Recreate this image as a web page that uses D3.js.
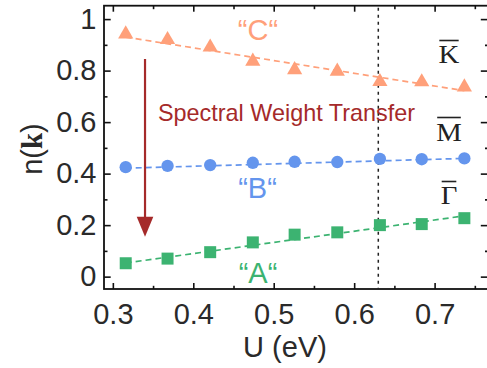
<!DOCTYPE html>
<html>
<head>
<meta charset="utf-8">
<script src="https://cdn.jsdelivr.net/npm/d3@7"></script>
<style>
  html, body { margin: 0; padding: 0; background: #fff; }
  svg { display: block; }
  text { font-family: "Liberation Sans", Arial, sans-serif; }
</style>
</head>
<body>
<svg id="chart" width="487" height="368"></svg>
<script>
// Interaction strength U (eV)
const uValues = [0.316, 0.368, 0.421, 0.474, 0.526, 0.579, 0.632, 0.684, 0.737];
// Momentum distribution n(k) at the three high-symmetry points
const seriesC = [0.942, 0.920, 0.891, 0.836, 0.803, 0.797, 0.757, 0.756, 0.736]; // K-bar
const seriesB = [0.425, 0.430, 0.433, 0.442, 0.446, 0.445, 0.457, 0.456, 0.459]; // M-bar
const seriesA = [0.052, 0.070, 0.095, 0.133, 0.163, 0.172, 0.200, 0.204, 0.227]; // Gamma-bar

// Linear trend lines (end points)
const fitU = [0.316, 0.737];
const fitC = [0.930, 0.722];
const fitB = [0.421, 0.459];
const fitA = [0.053, 0.236];

const xMajor = [0.3, 0.4, 0.5, 0.6, 0.7];
const xMinor = [0.35, 0.45, 0.55, 0.65, 0.75];
const xTickLabels = ["0.3", "0.4", "0.5", "0.6", "0.7"];
const yMajor = [0, 0.2, 0.4, 0.6, 0.8, 1];
const yMinor = [0.1, 0.3, 0.5, 0.7, 0.9];
const yTickLabels = ["0", "0.2", "0.4", "0.6", "0.8", "1"];

const criticalU = 0.63;

const box = { left: 104, top: 5.7, right: 488.5, bottom: 289 };

const svg = d3.select("#chart");

const x = d3.scaleLinear().domain([0.289, 0.767]).range([box.left, box.right]);
const y = d3.scaleLinear().domain([-0.048, 1.052]).range([box.bottom, box.top]);

const tickColor = "#2a2a2a";
const fontSize = 29;

function styleAxis(g) {
  g.select(".domain").remove();
  g.selectAll(".tick line").attr("stroke", "#111").attr("stroke-width", 1.6);
  g.selectAll(".tick text")
    .attr("fill", tickColor)
    .style("font-size", fontSize + "px")
    .style("font-family", "'Liberation Sans', Arial, sans-serif");
}

// Bottom axis: labelled major ticks plus short minor ticks, all pointing inward
svg.append("g")
  .attr("transform", `translate(0,${box.bottom})`)
  .call(d3.axisBottom(x).tickValues(xMajor)
    .tickFormat((d, i) => xTickLabels[i])
    .tickSizeInner(-6).tickSizeOuter(0).tickPadding(14))
  .call(styleAxis);
svg.append("g")
  .attr("transform", `translate(0,${box.bottom})`)
  .call(d3.axisBottom(x).tickValues(xMinor).tickFormat("")
    .tickSizeInner(-3.2).tickSizeOuter(0))
  .call(styleAxis);

// Top axis (unlabelled)
svg.append("g")
  .attr("transform", `translate(0,${box.top})`)
  .call(d3.axisTop(x).tickValues(xMajor).tickFormat("")
    .tickSizeInner(-6).tickSizeOuter(0))
  .call(styleAxis);
svg.append("g")
  .attr("transform", `translate(0,${box.top})`)
  .call(d3.axisTop(x).tickValues(xMinor).tickFormat("")
    .tickSizeInner(-3.5).tickSizeOuter(0))
  .call(styleAxis);

// Left axis
svg.append("g")
  .attr("transform", `translate(${box.left},0)`)
  .call(d3.axisLeft(y).tickValues(yMajor)
    .tickFormat((d, i) => yTickLabels[i])
    .tickSizeInner(-6.7).tickSizeOuter(0).tickPadding(7.5))
  .call(styleAxis);
svg.append("g")
  .attr("transform", `translate(${box.left},0)`)
  .call(d3.axisLeft(y).tickValues(yMinor).tickFormat("")
    .tickSizeInner(-3.5).tickSizeOuter(0))
  .call(styleAxis);

// Right axis (unlabelled)
svg.append("g")
  .attr("transform", `translate(${box.right},0)`)
  .call(d3.axisRight(y).tickValues(yMajor).tickFormat("")
    .tickSizeInner(-7.7).tickSizeOuter(0))
  .call(styleAxis);
svg.append("g")
  .attr("transform", `translate(${box.right},0)`)
  .call(d3.axisRight(y).tickValues(yMinor).tickFormat("")
    .tickSizeInner(-3.5).tickSizeOuter(0))
  .call(styleAxis);

// Frame
svg.append("rect")
  .attr("x", box.left).attr("y", box.top)
  .attr("width", box.right - box.left).attr("height", box.bottom - box.top)
  .attr("fill", "none").attr("stroke", "#111").attr("stroke-width", 1.8);

// Critical U marker
svg.append("line")
  .attr("x1", x(criticalU)).attr("x2", x(criticalU))
  .attr("y1", box.top + 2).attr("y2", box.bottom)
  .attr("stroke", "#222").attr("stroke-width", 1.5)
  .attr("stroke-dasharray", "3,4");

// Data series with dashed trend lines
const series = [
  { values: seriesC, fit: fitC, color: "#FFA07A", symbol: d3.symbolTriangle, size: 100 },
  { values: seriesB, fit: fitB, color: "#6495ED", symbol: d3.symbolCircle, size: 120 },
  { values: seriesA, fit: fitA, color: "#3CB371", symbol: d3.symbolSquare, size: 144 }
];

const line = d3.line().x(d => x(d[0])).y(d => y(d[1]));

series.forEach(s => {
  const trend = fitU.map((u, i) => [u, s.fit[i]]);
  svg.append("path")
    .datum(trend)
    .attr("d", line)
    .attr("fill", "none")
    .attr("stroke", s.color)
    .attr("stroke-width", 1.7)
    .attr("stroke-dasharray", "6,4");
  const pts = uValues.map((u, i) => [u, s.values[i]]);
  svg.append("g").selectAll("path")
    .data(pts)
    .join("path")
    .attr("transform", d => `translate(${x(d[0])},${y(d[1])})`)
    .attr("d", d3.symbol().type(s.symbol).size(s.size))
    .attr("fill", s.color);
});

// Series names
const seriesLabels = [
  { text: "\u201CC\u201C", color: "#FFA07A", cx: 258, base: 40 },
  { text: "\u201CB\u201C", color: "#6495ED", cx: 257.5, base: 198.3 },
  { text: "\u201CA\u201C", color: "#3CB371", cx: 258, base: 283.3 }
];
svg.append("g").selectAll("text")
  .data(seriesLabels)
  .join("text")
  .attr("x", d => d.cx).attr("y", d => d.base)
  .attr("text-anchor", "middle")
  .attr("fill", d => d.color)
  .style("font-size", "29px")
  .text(d => d.text);

// High-symmetry point names with overbars
const kLabels = [
  { text: "K", cx: 449, base: 63.5, barY: 40.5 },
  { text: "M", cx: 449, base: 141, barY: 117.5 },
  { text: "\u0393", cx: 449, base: 204.5, barY: 181.5 }
];
const kg = svg.append("g");
kLabels.forEach(d => {
  const t = kg.append("text")
    .attr("x", d.cx).attr("y", d.base)
    .attr("text-anchor", "middle")
    .attr("fill", "#222")
    .style("font-family", "'Liberation Serif', 'Times New Roman', serif")
    .style("font-size", "25px")
    .attr("transform", `translate(${d.cx},0) scale(1.15,1) translate(${-d.cx},0)`)
    .text(d.text);
  const w = t.node().getBBox().width * 1.15;
  kg.append("line")
    .attr("x1", d.cx - w / 2 + 1).attr("x2", d.cx + w / 2 - 1)
    .attr("y1", d.barY).attr("y2", d.barY)
    .attr("stroke", "#222").attr("stroke-width", 1.6);
});

// Spectral weight transfer annotation
const arrowColor = "#A52A2A";
const arrowX = x(0.340);
const arrowTop = y(0.845);
const arrowTip = y(0.155);
svg.append("line")
  .attr("x1", arrowX).attr("x2", arrowX)
  .attr("y1", arrowTop).attr("y2", arrowTip - 16)
  .attr("stroke", arrowColor).attr("stroke-width", 2.2);
svg.append("path")
  .attr("d", `M${arrowX - 8.3},${arrowTip - 20} L${arrowX + 8.3},${arrowTip - 20} L${arrowX},${arrowTip} Z`)
  .attr("fill", arrowColor);
svg.append("text")
  .attr("x", 158).attr("y", 120.5)
  .attr("fill", arrowColor)
  .style("font-size", "23.4px")
  .text("Spectral Weight Transfer");

// Axis titles
svg.append("text")
  .attr("x", 285).attr("y", 357)
  .attr("text-anchor", "middle")
  .attr("fill", tickColor)
  .style("font-size", "29px")
  .text("U (eV)");

const yTitle = svg.append("text")
  .attr("transform", "translate(41.5,149) rotate(-90)")
  .attr("text-anchor", "middle")
  .attr("fill", tickColor)
  .style("font-size", "29px");
yTitle.append("tspan").text("n(");
yTitle.append("tspan")
  .style("font-family", "'Liberation Serif', 'Times New Roman', serif")
  .style("font-weight", "bold")
  .text("k");
yTitle.append("tspan").text(")");
</script>
</body>
</html>
